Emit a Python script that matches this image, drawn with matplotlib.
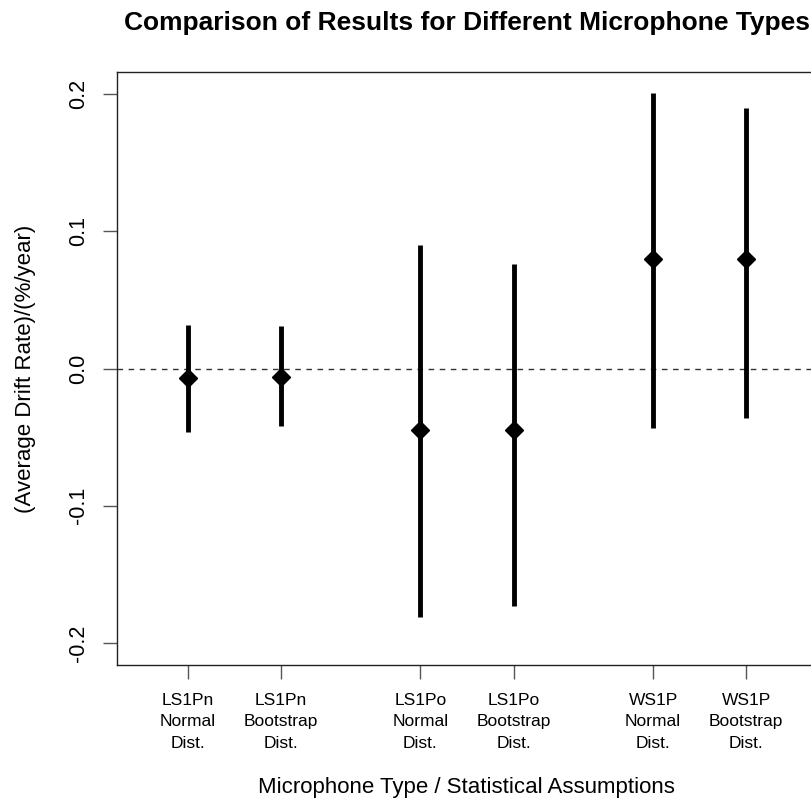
import matplotlib
matplotlib.use("Agg")
import matplotlib.pyplot as plt

plt.rcParams["font.family"] = ["Liberation Sans", "DejaVu Sans"]

# positions along x (groups separated by a wider gap)
positions = [1, 2, 3.5, 4.5, 6, 7]
tick_labels = [
    "LS1Pn\nNormal\nDist.",
    "LS1Pn\nBootstrap\nDist.",
    "LS1Po\nNormal\nDist.",
    "LS1Po\nBootstrap\nDist.",
    "WS1P\nNormal\nDist.",
    "WS1P\nBootstrap\nDist.",
]
mean_rate = [-0.007, -0.006, -0.045, -0.045, 0.080, 0.080]
lower = [-0.046, -0.042, -0.181, -0.173, -0.043, -0.036]
upper = [0.032, 0.031, 0.090, 0.076, 0.201, 0.190]

fig = plt.figure(figsize=(8.12, 7.99), dpi=100)
ax = fig.add_axes([117 / 812, 134 / 799, 700 / 812, 593 / 799])

ax.axhline(0, color="#333333", lw=1.0, ls=(0, (4, 4)), zorder=1)
ax.vlines(positions, lower, upper, color="black", lw=3.5, zorder=2)
ax.plot(positions, mean_rate, ls="none", marker="D", ms=9.5, color="black", zorder=3)

ax.set_xlim(0.24, 7.76)
ax.set_ylim(-0.216, 0.216)
ax.set_yticks([-0.2, -0.1, 0.0, 0.1, 0.2])
ax.set_yticklabels(["-0.2", "-0.1", "0.0", "0.1", "0.2"], rotation=90, va="center")
ax.set_xticks(positions)
ax.set_xticklabels(tick_labels, fontsize=12.5, linespacing=1.55)

ax.tick_params(axis="y", length=10, width=1, color="#555555", labelsize=15.5, pad=10)
ax.tick_params(axis="x", length=10, width=1, color="#555555", pad=10)
ax.spines["right"].set_visible(False)
for s in ["left", "top", "bottom"]:
    ax.spines[s].set_linewidth(1.0)
    ax.spines[s].set_color("#222222")

fig.text(467 / 812, 1 - 30 / 799, "Comparison of Results for Different Microphone Types",
         ha="center", va="baseline", fontsize=19, fontweight="bold")
fig.text(466 / 812, 1 - 787 / 799, "Microphone Type / Statistical Assumptions",
         ha="center", va="center", fontsize=16)
fig.text(26 / 812, 1 - 369 / 799, "(Average Drift Rate)/(%/year)",
         ha="center", va="center", rotation=90, fontsize=16)

fig.savefig("out.png", dpi=100)
